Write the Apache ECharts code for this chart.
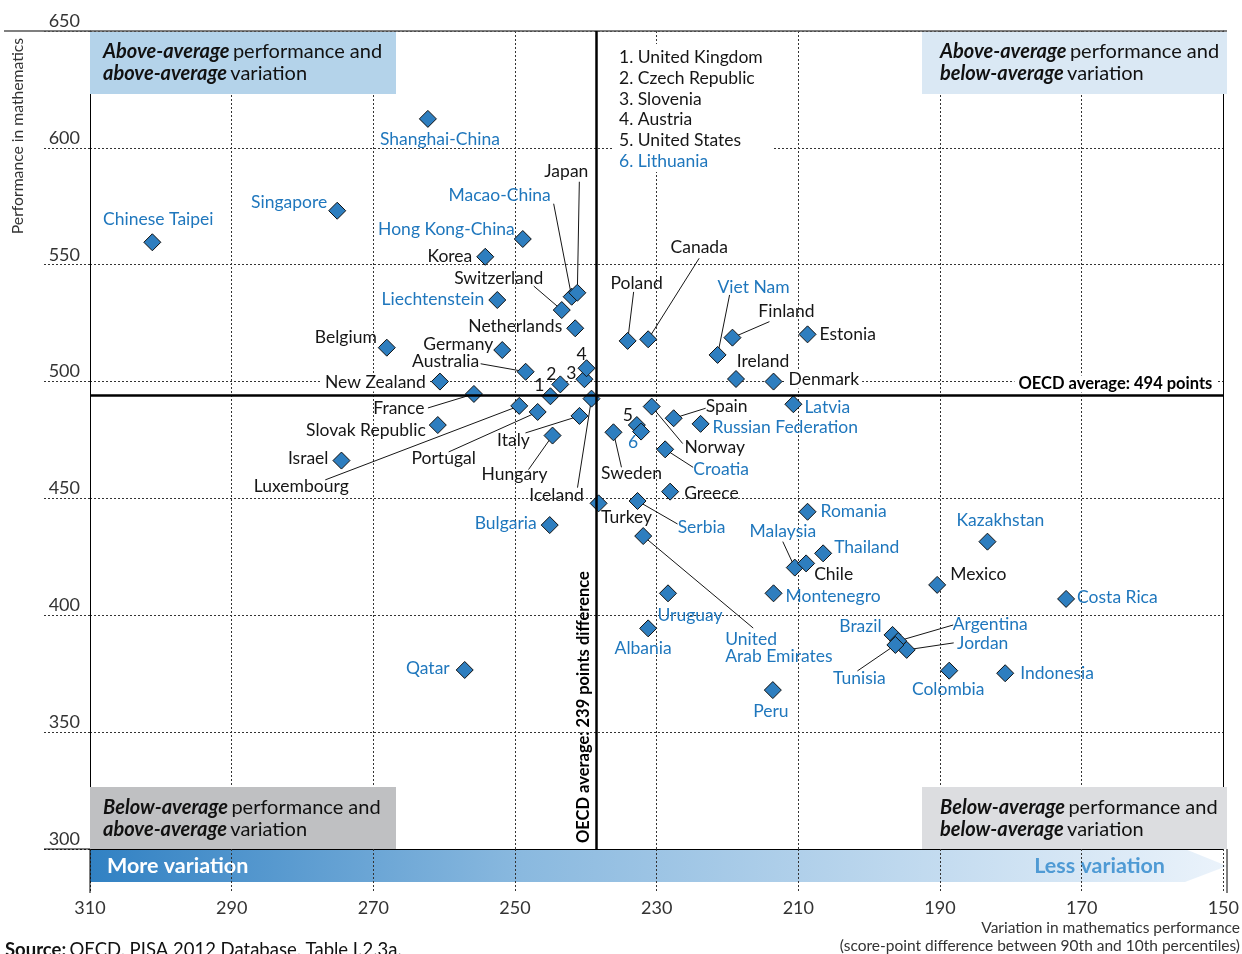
<!DOCTYPE html>
<html>
<head>
<meta charset="utf-8">
<title>Mathematics performance and variation, PISA 2012</title>
<script src="https://cdn.jsdelivr.net/npm/echarts@6/dist/echarts.min.js"></script>
<style>
  html, body { margin: 0; padding: 0; background: #fff; }
  #chart { width: 1242px; height: 954px; }
</style>
</head>
<body>
<div id="chart"></div>
<script>
// countries / economies as they appear on the chart
const countries = ['Shanghai-China', 'Singapore', 'Chinese Taipei', 'Hong Kong-China', 'Korea', 'Liechtenstein',
  'Macao-China', 'Japan', 'Switzerland', 'Netherlands', 'Belgium', 'Germany', 'Australia', 'New Zealand',
  'United Kingdom', 'Czech Republic', 'Slovenia', 'Austria', 'France', 'Slovak Republic', 'Luxembourg',
  'Portugal', 'Italy', 'Hungary', 'Iceland', 'Israel', 'Bulgaria', 'Turkey', 'Poland', 'Canada', 'Viet Nam',
  'Finland', 'Estonia', 'Ireland', 'Denmark', 'Latvia', 'Spain', 'Russian Federation', 'United States',
  'Lithuania', 'Norway', 'Croatia', 'Sweden', 'Greece', 'Serbia', 'United Arab Emirates', 'Uruguay', 'Albania',
  'Qatar', 'Peru', 'Malaysia', 'Chile', 'Thailand', 'Romania', 'Montenegro', 'Kazakhstan', 'Mexico',
  'Costa Rica', 'Brazil', 'Argentina', 'Jordan', 'Tunisia', 'Colombia', 'Indonesia']

// score-point difference between 90th and 10th percentiles
const variation = [262.3, 275.1, 301.2, 248.9, 254.2, 252.5, 242.0, 241.2, 243.4, 241.5,
  268.1, 251.8, 248.5, 260.6, 245.0, 243.6, 240.2, 239.9, 255.8, 260.9,
  249.4, 246.8, 240.9, 244.7, 239.2, 274.5, 245.1, 238.2, 234.1, 231.2,
  221.4, 219.3, 208.7, 218.8, 213.5, 210.7, 227.6, 223.8, 232.8, 232.2,
  230.7, 228.8, 236.1, 228.1, 232.7, 231.9, 228.4, 231.2, 257.1, 213.6,
  210.5, 208.9, 206.5, 208.7, 213.5, 183.3, 190.4, 172.2, 196.7, 195.9,
  194.7, 196.3, 188.7, 180.8]

// mean score in mathematics
const performance = [612.4, 573.1, 559.6, 561.0, 553.4, 534.9, 536.3, 538.0, 530.6, 522.8,
  514.5, 513.5, 504.2, 500.0, 493.7, 498.8, 501.0, 505.7, 494.7, 481.4,
  489.6, 487.0, 485.3, 476.9, 492.7, 466.2, 438.6, 447.9, 517.4, 518.1,
  511.4, 518.8, 520.2, 501.1, 500.0, 490.3, 484.3, 481.9, 481.4, 478.6,
  489.3, 471.0, 478.3, 452.9, 448.9, 433.9, 409.4, 394.4, 376.6, 368.0,
  420.4, 422.2, 426.5, 444.3, 409.4, 431.5, 413.0, 407.0, 391.6, 389.0,
  385.2, 387.3, 376.3, 375.2]

// partner (non-OECD) countries get blue labels
const partners = ['Shanghai-China', 'Singapore', 'Chinese Taipei', 'Hong Kong-China', 'Liechtenstein',
  'Macao-China', 'Bulgaria', 'Viet Nam', 'Latvia', 'Russian Federation', 'Lithuania', 'Croatia', 'Serbia',
  'United Arab Emirates', 'Uruguay', 'Albania', 'Qatar', 'Peru', 'Malaysia', 'Thailand', 'Romania',
  'Montenegro', 'Kazakhstan', 'Costa Rica', 'Brazil', 'Argentina', 'Jordan', 'Tunisia', 'Colombia', 'Indonesia']

// crowded points shown by number, listed in the key
const numbered = ['United Kingdom', 'Czech Republic', 'Slovenia', 'Austria', 'United States', 'Lithuania']

const xTicks = [310, 290, 270, 250, 230, 210, 190, 170, 150]
const yTicks = [300, 350, 400, 450, 500, 550, 600, 650]

const oecdPerformance = 494
const oecdVariation = 238.5
const oecdVariationLabel = 239

const BLUE = '#1f77bd'
const INK = '#161616'
const FONT = 'Lato, "Noto Sans", sans-serif'

// label placement: [position, dx, dy]
const labelSpots = {
  'Shanghai-China': ['bottom', 12, -3], 'Singapore': ['left', 4, -8], 'Chinese Taipei': ['top', 6, 0],
  'Hong Kong-China': ['left', 6, -10], 'Korea': ['left', 1, 0], 'Liechtenstein': ['left', 1, -1],
  'Macao-China': ['inside', -72, -101], 'Japan': ['inside', -11, -121], 'Switzerland': ['inside', -63, -32],
  'Netherlands': ['left', 1, -2], 'Belgium': ['left', 4, -10], 'Germany': ['left', 5, -6],
  'Australia': ['inside', -80, -10], 'New Zealand': ['left', 3, 1],
  'United Kingdom': ['inside', -11, -11], 'Czech Republic': ['inside', -9, -10], 'Slovenia': ['inside', -13, -6],
  'Austria': ['inside', -5, -14], 'France': ['inside', -75, 14], 'Slovak Republic': ['left', 2, 5],
  'Luxembourg': ['inside', -218, 80], 'Portugal': ['inside', -94, 46], 'Italy': ['inside', -66, 24],
  'Hungary': ['inside', -38, 39], 'Iceland': ['inside', -35, 97], 'Israel': ['left', 1, -2],
  'Bulgaria': ['left', 1, -2], 'Turkey': ['inside', 28, 14], 'Poland': ['inside', 9, -58],
  'Canada': ['inside', 51, -92], 'Viet Nam': ['inside', 36, -68], 'Finland': ['inside', 54, -26],
  'Estonia': ['right', -2, 0], 'Ireland': ['inside', 27, -18], 'Denmark': ['right', -2, -2],
  'Latvia': ['right', -3, 3], 'Spain': ['inside', 53, -12], 'Russian Federation': ['right', -2, 3],
  'United States': ['inside', -9, -10], 'Lithuania': ['inside', -8, 11], 'Norway': ['inside', 63, 41],
  'Croatia': ['inside', 56, 20], 'Sweden': ['inside', 18, 41], 'Greece': ['right', 0, 2],
  'Serbia': ['inside', 64, 26], 'United Arab Emirates': ['inside', 82, 112], 'Uruguay': ['bottom', 22, -1],
  'Albania': ['bottom', -5, -3], 'Qatar': ['left', -1, -2], 'Peru': ['bottom', -2, -2],
  'Malaysia': ['inside', -12, -36], 'Chile': ['right', -6, 11], 'Thailand': ['right', -3, -6],
  'Romania': ['right', -1, 0], 'Montenegro': ['right', -2, 3], 'Kazakhstan': ['top', 13, 2],
  'Mexico': ['right', -1, -11], 'Costa Rica': ['right', -3, -2], 'Brazil': ['left', 3, -9],
  'Argentina': ['inside', 92, -17], 'Jordan': ['inside', 76, -7], 'Tunisia': ['inside', -36, 33],
  'Colombia': ['bottom', -1, -4], 'Indonesia': ['right', 1, 0]
}

// labels that sit on a white patch over the grid
const whiteBehind = ['New Zealand', 'Denmark']

// leader lines: where the line leaves the label, relative to the point
const leaders = {
  'Macao-China': [-18, -93], 'Japan': [2, -111], 'Switzerland': [-28, -24], 'Australia': [-45, -8],
  'France': [-46, 14], 'Luxembourg': [-194, 74], 'Portugal': [-89, 40], 'Italy': [-54, 17],
  'Hungary': [-24, 34], 'Iceland': [-14, 89], 'Poland': [6, -49], 'Canada': [51, -81],
  'Viet Nam': [12, -60], 'Finland': [37, -16], 'Spain': [32, -10], 'Norway': [31, 37],
  'Croatia': [28, 18], 'Sweden': [8, 35], 'Serbia': [40, 23], 'United Arab Emirates': [110, 92],
  'Malaysia': [-12, -26], 'Argentina': [55, -16], 'Jordan': [47, -7], 'Tunisia': [-38, 26]
}

function labelText(name) {
  if (numbered.includes(name)) return String(numbered.indexOf(name) + 1)
  if (name === 'United Arab Emirates') return 'United\nArab Emirates'
  return name
}

const points = countries.map((name, i) => {
  const [pos, dx, dy] = labelSpots[name] || ['right', 0, 0]
  const item = {
    name,
    value: [variation[i], performance[i]],
    label: {
      position: pos, offset: [dx, dy],
      color: partners.includes(name) ? BLUE : INK,
      formatter: labelText(name)
    }
  }
  if (name === 'United Arab Emirates') { item.label.align = 'left'; item.label.lineHeight = 17 }
  if (whiteBehind.includes(name)) { item.label.backgroundColor = '#fff'; item.label.padding = [0, 3] }
  return item
})

const quadText = (a, b, c, d) => `{bi|${a}} {r|${b}}\n{bi|${c}} {r|${d}}`
const quadRich = {
  bi: { fontFamily: FONT, fontSize: 20, fontWeight: 'bold', fontStyle: 'italic', fill: '#111', lineHeight: 22 },
  r: { fontFamily: FONT, fontSize: 20, fill: '#111', lineHeight: 22 }
}

const chart = echarts.init(document.getElementById('chart'))
chart.setOption({
  animation: false,
  backgroundColor: '#fff',
  textStyle: { fontFamily: FONT },
  grid: { left: 90, right: 15, top: 31, bottom: 105 },
  xAxis: {
    type: 'value', inverse: true, min: 150, max: 310, interval: 20,
    axisLine: { lineStyle: { color: '#000', width: 1 } },
    axisTick: { length: 44, lineStyle: { color: '#333', type: [2, 2] } },
    axisLabel: { margin: 50, fontSize: 18, color: '#333', fontFamily: FONT,
      formatter: v => xTicks.includes(v) ? String(v) : '' },
    splitLine: { lineStyle: { color: '#333', type: [2, 2] } }
  },
  yAxis: [{
    type: 'value', min: 300, max: 650, interval: 50,
    axisLine: { show: true, lineStyle: { color: '#000', width: 1 } },
    axisTick: { show: true, length: 46, lineStyle: { color: '#333', type: [2, 2] } },
    axisLabel: { margin: 10, fontSize: 18, color: '#333', fontFamily: FONT, verticalAlign: 'bottom',
      padding: [0, 0, 1, 0], formatter: v => yTicks.includes(v) ? String(v) : '' },
    splitLine: { lineStyle: { color: '#333', type: [2, 2] } }
  }, {
    type: 'value', min: 300, max: 650, interval: 50, position: 'right',
    axisLine: { show: true, lineStyle: { color: '#000', width: 1 } },
    axisTick: { show: false }, axisLabel: { show: false }, splitLine: { show: false }
  }],
  series: [{
    // leader lines from labels to their diamonds
    type: 'custom',
    silent: true,
    z: 2,
    data: countries.map((name, i) => [variation[i], performance[i]]),
    renderItem: (params, api) => {
      const lead = leaders[countries[params.dataIndex]]
      if (!lead) return null
      const p = api.coord([api.value(0), api.value(1)])
      return {
        type: 'line',
        shape: { x1: p[0], y1: p[1], x2: p[0] + lead[0], y2: p[1] + lead[1] },
        style: { stroke: INK, lineWidth: 1 }
      }
    }
  }, {
    type: 'scatter',
    symbol: 'diamond', symbolSize: 17,
    itemStyle: { color: '#2e7ebf', borderColor: '#111', borderWidth: 1, opacity: 1 },
    label: { show: true, fontFamily: FONT, fontSize: 17.5, color: INK },
    emphasis: { disabled: true },
    data: points,
    z: 3,
    markLine: {
      silent: true, symbol: 'none', animation: false,
      lineStyle: { color: '#000', width: 2.5, type: 'solid' },
      label: { fontFamily: FONT, fontWeight: 'bold', color: '#000' },
      data: [
        { yAxis: oecdPerformance,
          label: { formatter: `OECD average: ${oecdPerformance} points`, position: 'insideStartTop',
            fontSize: 16.5, distance: [7, 3], backgroundColor: '#fff', padding: [0, 4] } },
        { xAxis: oecdVariation,
          label: { formatter: `OECD average: ${oecdVariationLabel} points difference`, position: 'insideStartTop',
            fontSize: 16.5, distance: [6, 4] } }
      ]
    }
  }],
  graphic: [
    // variation arrow under the x axis
    { type: 'polygon', z: -10,
      shape: { points: [[90, 849], [1185, 849], [1227, 866], [1185, 882], [90, 882]] },
      style: { fill: new echarts.graphic.LinearGradient(0, 0, 1, 0, [
        { offset: 0, color: '#3181c3' }, { offset: 0.38, color: '#8ab9df' }, { offset: 1, color: '#ebf3fb' }]) } },
    { type: 'text', z: -9, x: 107, y: 866,
      style: { text: 'More variation', fontFamily: FONT, fontSize: 21.5, fontWeight: 'bold', fill: '#fff', verticalAlign: 'middle' } },
    { type: 'text', z: -9, x: 1165, y: 866,
      style: { text: 'Less variation', fontFamily: FONT, fontSize: 21.5, fontWeight: 'bold', fill: '#4f9ad4', align: 'right', verticalAlign: 'middle' } },
    // frame bits
    { type: 'line', z: 5, shape: { x1: 4, y1: 31, x2: 1227, y2: 31 }, style: { stroke: '#555', lineWidth: 1.5 } },
    { type: 'line', z: 5, shape: { x1: 44, y1: 849, x2: 90, y2: 849 }, style: { stroke: '#000', lineWidth: 1 } },
    { type: 'line', z: 5, shape: { x1: 90, y1: 849, x2: 90, y2: 893 }, style: { stroke: '#000', lineWidth: 1 } },
    { type: 'line', z: 5, shape: { x1: 1227, y1: 849, x2: 1227, y2: 893 }, style: { stroke: '#000', lineWidth: 1 } },
    // quadrant boxes
    { type: 'rect', z: 6, shape: { x: 90, y: 32, width: 306, height: 62 }, style: { fill: '#b4d3ea' } },
    { type: 'text', z: 7, x: 103, y: 41,
      style: { text: quadText('Above-average', 'performance and', 'above-average', 'variation'), rich: quadRich } },
    { type: 'rect', z: 6, shape: { x: 922, y: 32, width: 305, height: 62 }, style: { fill: '#dae8f4' } },
    { type: 'text', z: 7, x: 940, y: 41,
      style: { text: quadText('Above-average', 'performance and', 'below-average', 'variation'), rich: quadRich } },
    { type: 'rect', z: 6, shape: { x: 90, y: 787, width: 306, height: 62 }, style: { fill: '#bfc0c2' } },
    { type: 'text', z: 7, x: 103, y: 797,
      style: { text: quadText('Below-average', 'performance and', 'above-average', 'variation'), rich: quadRich } },
    { type: 'rect', z: 6, shape: { x: 922, y: 787, width: 305, height: 62 }, style: { fill: '#dcdde0' } },
    { type: 'text', z: 7, x: 940, y: 797,
      style: { text: quadText('Below-average', 'performance and', 'below-average', 'variation'), rich: quadRich } },
    // key for numbered points
    { type: 'rect', z: 6, shape: { x: 612, y: 44, width: 160, height: 128 }, style: { fill: '#fff' } },
    { type: 'text', z: 7, x: 619, y: 47,
      style: {
        text: numbered.map((n, i) => `{${i === 5 ? 'b' : 'k'}|${i + 1}. ${n}}`).join('\n'),
        rich: {
          k: { fontFamily: FONT, fontSize: 17.5, fill: INK, lineHeight: 20.8 },
          b: { fontFamily: FONT, fontSize: 17.5, fill: BLUE, lineHeight: 20.8 }
        }
      } },
    // axis titles and source
    { type: 'text', z: 7, x: 18, y: 136, rotation: Math.PI / 2,
      style: { text: 'Performance in mathematics', fontFamily: FONT, fontSize: 15.7, fill: '#333', align: 'center', verticalAlign: 'middle' } },
    { type: 'text', z: 7, x: 1240, y: 919,
      style: { text: 'Variation in mathematics performance\n(score-point difference between 90th and 10th percentiles)',
        fontFamily: FONT, fontSize: 15.5, fill: '#333', align: 'right', lineHeight: 18 } },
    { type: 'text', z: 7, x: 5, y: 941,
      style: { text: '{s|Source:} {t|OECD, PISA 2012 Database, Table I.2.3a.}',
        rich: { s: { fontFamily: FONT, fontSize: 18.5, fontWeight: 'bold', fill: '#111' },
                t: { fontFamily: FONT, fontSize: 18.5, fill: '#111' } } } }
  ]
})
</script>
</body>
</html>
